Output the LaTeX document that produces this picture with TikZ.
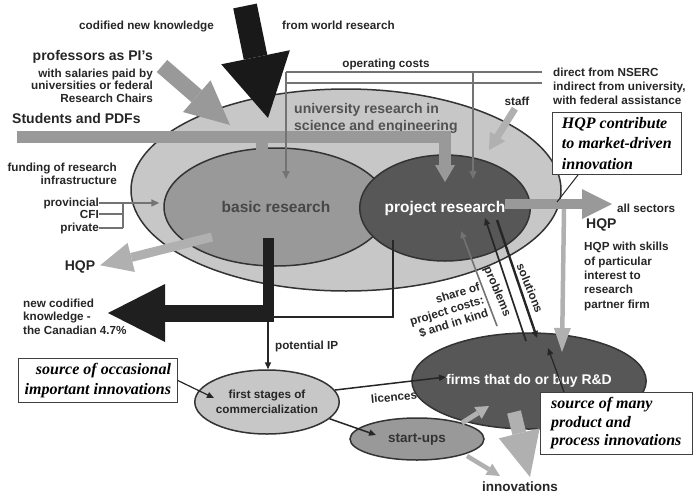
\documentclass[tikz,border=0pt]{standalone}
\usepackage{fontspec}
\setmainfont{Liberation Sans}
\newfontfamily\notefont{Liberation Serif}
\usetikzlibrary{arrows.meta,shapes.geometric}

\definecolor{outergray}{gray}{0.78}
\definecolor{midgray}{gray}{0.6}
\definecolor{deepgray}{gray}{0.34}
\definecolor{flowgray}{gray}{0.6}
\definecolor{palegray}{gray}{0.69}
\definecolor{wiregray}{gray}{0.45}

\tikzset{
  lbl/.style={inner sep=0pt, text=black!85, font=\bfseries\fontsize{11.7}{13.5}\selectfont},
  biglbl/.style={lbl, font=\bfseries\fontsize{14}{17}\selectfont},
  area/.style={ellipse, draw=black!80, line width=1.5pt, inner sep=0pt},
  notebox/.style={draw=black!75, line width=0.7pt, fill=white, inner xsep=5pt, inner ysep=5pt},
  notefont/.style={font=\notefont\bfseries\itshape\fontsize{16}{#1}\selectfont},
  blockarr/.style args={#1/#2/#3}{line width=#1, -{Triangle[width=#2,length=#3,line width=0pt]}},
  wire/.style={draw=wiregray, line width=1.6pt},
  wirearr/.style={wire, -{Triangle[width=7pt,length=8pt]}},
  link/.style={draw=black!85, line width=1.5pt, -{Triangle[width=6pt,length=7pt]}},
}

\begin{document}
\begin{tikzpicture}[x=1pt,y=-1pt]
\useasboundingbox (0,0) rectangle (694,496);

% research areas
\node[area, fill=outergray, minimum width=430pt, minimum height=202pt] (univ) at (346,190) {};
\node[area, fill=midgray, minimum width=224pt, minimum height=118pt, font=\bfseries\fontsize{15.5}{18}\selectfont, text=black!72] (basic) at (276,207) {basic research};
\node[area, fill=deepgray, minimum width=164pt, minimum height=106pt, font=\bfseries\fontsize{15.5}{18}\selectfont, text=white] (proj) at (445,208) {project research};

% commercial side
\node[area, fill=deepgray, minimum width=202pt, minimum height=96pt, font=\bfseries\fontsize{14}{16}\selectfont, text=white] (firms) at (529,381) {firms that do or buy R\&D};
\node[area, fill=outergray, minimum width=124pt, minimum height=64pt, align=center, font=\bfseries\fontsize{11.7}{14.5}\selectfont, text=black!85] (stages) at (267,402) {first stages of\\commercialization};
\node[area, fill=midgray, minimum width=134pt, minimum height=42pt, font=\bfseries\fontsize{13.5}{16}\selectfont, text=black!80] (startups) at (417,439) {start-ups};

% free ends
\coordinate (worldtail) at (245,6);
\coordinate (worldhead) at (268,118);
\coordinate (proftail) at (162,66);
\coordinate (profhead) at (230,125);
\coordinate (studtail) at (17,137);
\coordinate (basicin) at (262,178);
\coordinate (projin) at (445,182);
\coordinate (opleft) at (286,72);
\coordinate (opright) at (542,72);
\coordinate (opright2) at (542,83);
\coordinate (basicop) at (286,179);
\coordinate (projop) at (473,179);
\coordinate (stafftip) at (489,150);
\coordinate (hqptail) at (505,204);
\coordinate (hqphead) at (612,204);
\coordinate (hqpdrop) at (564,209);
\coordinate (firmsin) at (562,352);
\coordinate (boxfoot) at (557,202);
\coordinate (hqpltail) at (212,237);
\coordinate (canbar) at (268,238);
\coordinate (candrop) at (268,322);
\coordinate (canjoin) at (273,313);
\coordinate (canhead) at (108,313);
\coordinate (projdrop) at (393,240);
\coordinate (ipjoin) at (273,317);
\coordinate (sharetail) at (497,326);
\coordinate (sharehead) at (461,231);
\coordinate (probtail) at (526,341);
\coordinate (probhead) at (485,218);
\coordinate (soltail) at (497,220);
\coordinate (solhead) at (537,338);
\coordinate (occtip) at (214,398);
\coordinate (lictip) at (446,377);
\coordinate (suptip) at (376,435);
\coordinate (manytip) at (548,348);
\coordinate (suftail) at (462,423);
\coordinate (sufhead) at (489,406);
\coordinate (inntail) at (514,412);
\coordinate (inntip) at (530,477);
\coordinate (suitail) at (467,456);
\coordinate (suihead) at (500,476);
\coordinate (brk) at (123,0);

% labels
\node[lbl, anchor=base east] (codified) at (214,29) {codified new knowledge};
\node[lbl, anchor=base west] (world) at (282,29) {from world research};
\node[biglbl, anchor=base east] (prof) at (153,60) {professors as PI's};
\node[lbl, anchor=base east, align=right, font=\bfseries\fontsize{11.7}{12.8}\selectfont] (salary) at (153,102.6) {with salaries paid by\\universities or federal\\Research Chairs};
\node[biglbl, anchor=base west] (students) at (12,123) {Students and PDFs};
\node[biglbl, anchor=base west, align=left, text=black!68] (univlbl) at (294,130) {university research in\\science and engineering};
\node[lbl, anchor=base] (opcost) at (386,67) {operating costs};
\node[lbl, anchor=base west] (nserc) at (553,76) {direct from NSERC};
\node[lbl, anchor=base west, align=left, font=\bfseries\fontsize{11.7}{14.5}\selectfont] (indirect) at (553,104.5) {indirect from university,\\with federal assistance};
\node[lbl, anchor=base] (staff) at (517,105) {staff};
\node[lbl, anchor=base east, align=right] (funding) at (117,184.5) {funding of research\\infrastructure};
\node[lbl, anchor=base east] (prov) at (99,206) {provincial};
\node[lbl, anchor=base east] (cfi) at (99,218) {CFI};
\node[lbl, anchor=base east] (priv) at (99,231) {private};
\node[lbl, anchor=base west] (allsect) at (617,212) {all sectors};
\node[biglbl, anchor=base west] (hqpr) at (586,228) {HQP};
\node[lbl, anchor=base west, align=left, font=\bfseries\fontsize{11.7}{14.3}\selectfont] (skills) at (584,308) {HQP with skills\\of particular\\interest to\\research\\partner firm};
\node[biglbl, anchor=base] (hqpl) at (80,270) {HQP};
\node[lbl, anchor=base west, align=left] (newcod) at (23,334) {new codified\\knowledge -\\the Canadian 4.7\%};
\node[lbl, rotate=17, align=right, font=\bfseries\fontsize{11.7}{14}\selectfont] (share) at (447,311) {share of\\project costs:\\\$ and in kind};
\node[lbl, rotate=-67] (probl) at (497,292) {problems};
\node[lbl, rotate=-68] (solut) at (530,288) {solutions};
\node[lbl, anchor=base west] (potip) at (275,349) {potential IP};
\node[lbl, rotate=5] (licen) at (394,397) {licences};
\node[lbl, anchor=base, font=\bfseries\fontsize{13.5}{16}\selectfont] (innov) at (520,491) {innovations};

% boxed notes
\node[notebox, notefont=20.5, anchor=north west, align=left, minimum width=129pt] (hqpbox) at (552,112) {HQP contribute\\to market-driven\\innovation};
\node[notebox, notefont=19.5, anchor=north west, align=right, minimum width=159pt] (occbox) at (18,358) {source of occasional\\important innovations};
\node[notebox, notefont=18.5, anchor=north west, align=left, minimum width=152pt] (manybox) at (540,392) {source of many\\product and\\process innovations};

% inflows from the top
\draw[blockarr=24pt/70pt/62pt, black!90] (worldtail) -- (worldhead);
\draw[blockarr=16pt/42pt/44pt, flowgray] (proftail) -- (profhead);
\draw[blockarr=12pt/20pt/17pt, flowgray] (studtail) -| (projin);
\draw[blockarr=12pt/20pt/17pt, flowgray] (basicin |- studtail) -- (basicin);

% operating costs
\draw[wire] (opright) -- (opleft);
\draw[wirearr] (opleft) -- (basicop);
\draw[wire] (opright2) -- (opright2 -| opleft);
\draw[wirearr] (opleft -| projop) -- (projop);
\draw[blockarr=7pt/18pt/16pt, palegray, shorten <=4pt] (staff.south) -- (stafftip);

% infrastructure
\draw[wirearr, shorten >=4pt] (prov.east) -- (prov.east -| basic.west);
\draw[wire] (cfi.east) -- (cfi.east -| brk);
\draw[wire] (priv.east) -- (priv.east -| brk);
\draw[wire] (prov.east -| brk) -- (priv.east -| brk);

% outputs
\draw[blockarr=10pt/30pt/30pt, flowgray] (hqptail) -- (hqphead);
\draw[blockarr=4.5pt/17pt/24pt, palegray] (hqpdrop) -- (firmsin);
\draw[black!85, line width=1pt] ([xshift=26pt]hqpbox.south west) -- (boxfoot);
\draw[blockarr=9pt/30pt/32pt, palegray, shorten >=5pt] (hqpltail) -- (hqpl.east);
\draw[line width=11pt, black!88] (canbar) -- (candrop);
\draw[blockarr=17pt/58pt/57pt, black!88] (canjoin) -- (canhead);
\draw[black!85, line width=2.2pt] (projdrop) |- (ipjoin);
\draw[link] (candrop) -- (candrop |- stages.north);

% project research and firms
\draw[draw=black!55, line width=1.6pt, -{Triangle[width=6pt,length=7pt]}] (sharetail) -- (sharehead);
\draw[link, line width=1.6pt] (probtail) -- (probhead);
\draw[link, line width=2.4pt] (soltail) -- (solhead);

% commercialization
\draw[link, line width=1.2pt] (occbox.east) -- (occtip);
\draw[link] (stages.10) -- (lictip);
\draw[link] (stages.-15) -- (suptip);
\draw[link, line width=1.2pt] ([xshift=24pt]manybox.north west) -- (manytip);
\draw[blockarr=5pt/14pt/13pt, palegray] (suftail) -- (sufhead);
\draw[blockarr=14pt/42pt/45pt, palegray] (inntail) -- (inntip);
\draw[blockarr=4.5pt/13pt/13pt, palegray] (suitail) -- (suihead);
\end{tikzpicture}
\end{document}
